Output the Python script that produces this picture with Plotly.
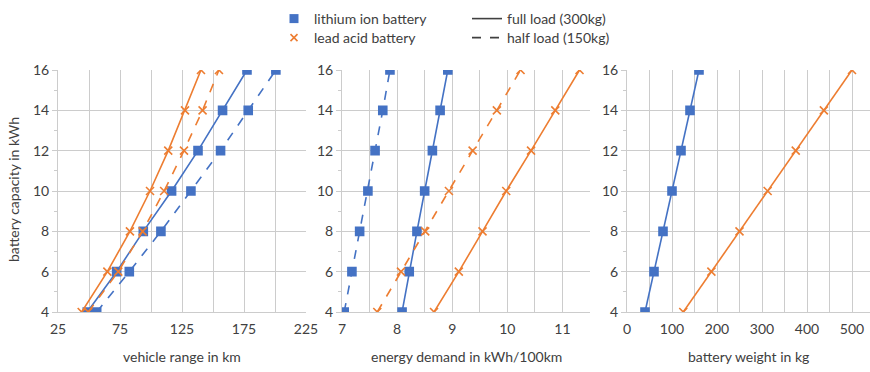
import plotly.graph_objects as go

capacity = [4, 6, 8, 10, 12, 14, 16]

# vehicle range in km
range_li_full = [48.6, 72.3, 93.8, 116.6, 137.9, 157.7, 177.4]
range_li_half = [56.2, 82.5, 108.0, 132.2, 156.1, 178.4, 200.7]
range_pb_full = [44.1, 64.8, 83.0, 99.2, 113.9, 127.4, 140.3]
range_pb_half = [49.4, 73.6, 93.2, 110.6, 126.6, 141.6, 154.8]

# energy demand in kWh/100km
energy_li_full = [8.09, 8.22, 8.36, 8.50, 8.64, 8.78, 8.92]
energy_li_half = [7.04, 7.18, 7.32, 7.47, 7.60, 7.74, 7.87]
energy_pb_full = [8.67, 9.12, 9.55, 9.98, 10.43, 10.87, 11.31]
energy_pb_half = [7.64, 8.07, 8.51, 8.94, 9.37, 9.81, 10.24]

# battery weight in kg
weight_li = [40, 60, 80, 100, 120, 140, 160]
weight_pb = [125, 187.5, 250, 312.5, 375, 437.5, 500]

BLUE = "#4472C4"
ORANGE = "#ED7D31"
FONT = "Lato"
TXT = "#404040"
GRID = "#cccccc"

fig = go.Figure()

def add(x, color, symbol, dash, xa, ya):
    fig.add_trace(go.Scatter(
        x=x, y=capacity, mode="lines+markers", xaxis=xa, yaxis=ya,
        line=dict(color=color, width=1.6, dash=dash),
        marker=dict(symbol=symbol, size=8, color=color, line=dict(color=color, width=1.6)),
        showlegend=False, hoverinfo="skip"))

add(range_li_full, BLUE, "square", "solid", "x", "y")
add(range_li_half, BLUE, "square", "dash", "x", "y")
add(range_pb_full, ORANGE, "x-thin", "solid", "x", "y")
add(range_pb_half, ORANGE, "x-thin", "dash", "x", "y")

add(energy_li_full, BLUE, "square", "solid", "x2", "y2")
add(energy_li_half, BLUE, "square", "dash", "x2", "y2")
add(energy_pb_full, ORANGE, "x-thin", "solid", "x2", "y2")
add(energy_pb_half, ORANGE, "x-thin", "dash", "x2", "y2")

add(weight_li, BLUE, "square", "solid", "x3", "y3")
add(weight_pb, ORANGE, "x-thin", "solid", "x3", "y3")

# legend entries
fig.add_trace(go.Scatter(x=[None], y=[None], mode="markers", name="lithium ion battery",
                         marker=dict(symbol="square", size=9, color=BLUE), legend="legend"))
fig.add_trace(go.Scatter(x=[None], y=[None], mode="lines", name="full load (300kg)",
                         line=dict(color="#404040", width=1.6), legend="legend2"))
fig.add_trace(go.Scatter(x=[None], y=[None], mode="markers", name="lead acid battery",
                         marker=dict(symbol="x-thin", size=7, color=ORANGE,
                                     line=dict(color=ORANGE, width=1.6)), legend="legend3"))
fig.add_trace(go.Scatter(x=[None], y=[None], mode="lines", name="half load (150kg)",
                         line=dict(color="#404040", width=1.6, dash="dash"), legend="legend4"))

W, H = 870, 372
top, bottom = 70, 312
ph = bottom - top

def px(x):
    return x / W

def py(pix):
    return (bottom - pix) / ph

def yaxis_common(anchor):
    return dict(anchor=anchor, range=[4, 16], tickvals=[4, 6, 8, 10, 12, 14, 16], showgrid=True,
                gridcolor=GRID, gridwidth=1, showline=True, linecolor=GRID,
                ticks="outside", ticklen=5, tickcolor=GRID,
                minor=dict(dtick=1, tick0=4, ticks="outside", ticklen=3, tickcolor=GRID, showgrid=False),
                tickfont=dict(family=FONT, size=14, color=TXT), zeroline=False,
                automargin=False, fixedrange=True)

def xaxis_common(r, tv, mdt, dom, anchor):
    return dict(anchor=anchor, domain=dom, range=r, tickvals=tv, showgrid=True, gridcolor=GRID,
                gridwidth=1, showline=True, linecolor=GRID, ticks="outside", ticklen=4,
                tickcolor="rgba(0,0,0,0)",
                minor=dict(dtick=mdt, tick0=r[0], showgrid=True, gridcolor=GRID, gridwidth=1),
                tickfont=dict(family=FONT, size=14, color=TXT), zeroline=False,
                automargin=False, fixedrange=True)

x1 = xaxis_common([25, 225], [25, 75, 125, 175, 225], 25, [px(58), px(306)], "y")
x2 = xaxis_common([7, 11.5], [7, 8, 9, 10, 11], 0.5, [px(342), px(590)], "y2")
x3 = xaxis_common([0, 540], [0, 100, 200, 300, 400, 500], 50, [px(627), 1.0], "y3")

afont = dict(family=FONT, size=14, color=TXT)
annotations = [
    dict(text="battery capacity in kWh", x=px(13), y=py(190), xref="paper", yref="paper",
         xanchor="center", yanchor="middle", textangle=-90, showarrow=False, font=afont),
    dict(text="vehicle range in km", x=px(182), y=py(356), xref="paper", yref="paper",
         xanchor="center", yanchor="middle", showarrow=False, font=afont),
    dict(text="energy demand in kWh/100km", x=px(466), y=py(356), xref="paper", yref="paper",
         xanchor="center", yanchor="middle", showarrow=False, font=afont),
    dict(text="battery weight in kg", x=px(748), y=py(356), xref="paper", yref="paper",
         xanchor="center", yanchor="middle", showarrow=False, font=afont),
]

def leg(xpix, ypix):
    return dict(x=px(xpix), y=py(ypix), xanchor="left", yanchor="top", font=afont,
                bgcolor="rgba(0,0,0,0)", itemwidth=30)

fig.update_layout(
    width=W, height=H,
    margin=dict(l=0, r=0, t=top, b=H - bottom, autoexpand=False),
    paper_bgcolor="white", plot_bgcolor="white",
    xaxis=x1, yaxis=yaxis_common("x"),
    xaxis2=x2, yaxis2=yaxis_common("x2"),
    xaxis3=x3, yaxis3=yaxis_common("x3"),
    annotations=annotations,
    legend=leg(274, 3),
    legend2=leg(467, 3),
    legend3=leg(274, 22),
    legend4=leg(467, 22),
)

fig.write_html("out.html", config={"displayModeBar": False},
               post_script="document.body.style.margin='0';")
